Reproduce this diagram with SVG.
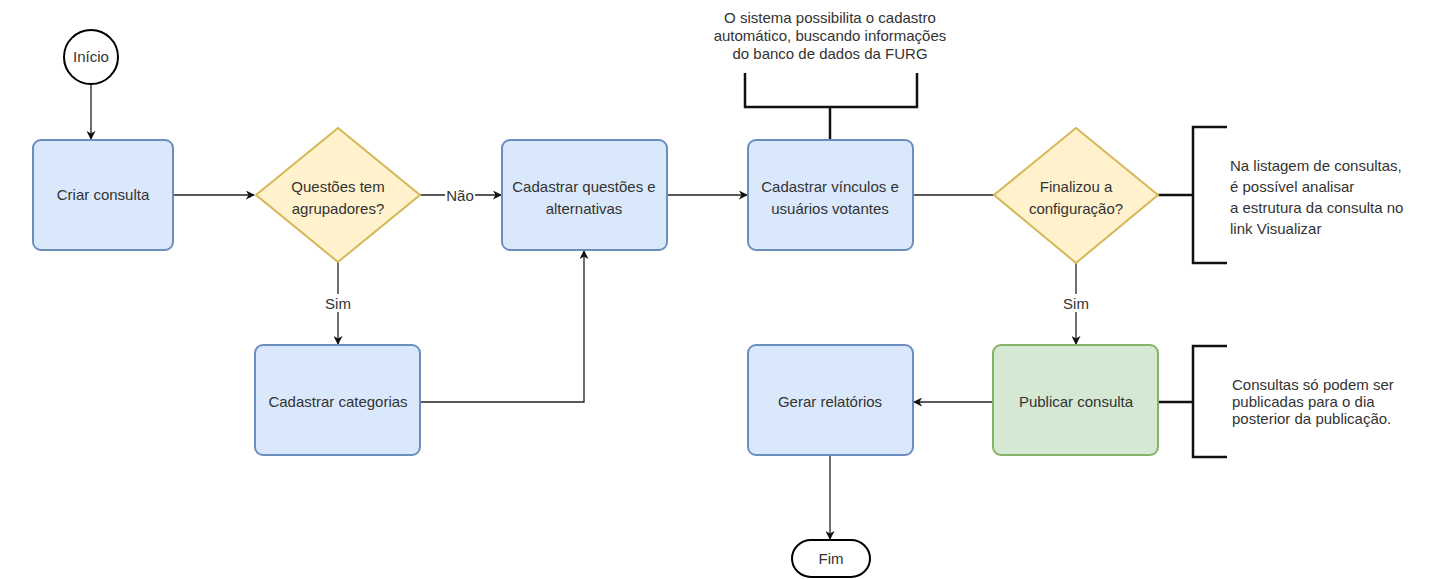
<svg xmlns="http://www.w3.org/2000/svg" width="1437" height="579" viewBox="0 0 1437 579">
<style>
text{font-family:"Liberation Sans",Arial,sans-serif;font-size:15px;fill:#333;}
.c{text-anchor:middle;}
.blue{fill:#dae8fc;stroke:#6c8ebf;stroke-width:2;}
.green{fill:#d5e8d4;stroke:#82b366;stroke-width:2;}
.yel{fill:#fff2cc;stroke:#d6b656;stroke-width:2;}
.term{fill:#fff;stroke:#000;stroke-width:2;}
.edge{fill:none;stroke:#222;stroke-width:1.3;}
.brk{fill:none;stroke:#111;stroke-width:2.5;}
.lbl{fill:#fff;stroke:none;}
</style>
<defs>
<marker id="arr" viewBox="0 0 10 10" refX="9" refY="5" markerWidth="9" markerHeight="9" markerUnits="userSpaceOnUse" orient="auto">
<path d="M0,0 L10,5 L0,10 L3,5 z" fill="#111"/>
</marker>
</defs>
<g id="connectors">
<line class="edge" x1="91" y1="84" x2="91" y2="139" marker-end="url(#arr)"/>
<line class="edge" x1="173" y1="195" x2="254" y2="195" marker-end="url(#arr)"/>
<line class="edge" x1="420" y1="195" x2="501" y2="195" marker-end="url(#arr)"/>
<rect class="lbl" x="445" y="186" width="30" height="18"/>
<text class="c" x="460" y="201">Não</text>
<line class="edge" x1="667" y1="195" x2="747" y2="195" marker-end="url(#arr)"/>
<line class="edge" x1="913" y1="195" x2="994" y2="195"/>
<line class="edge" x1="338" y1="262" x2="338" y2="344" marker-end="url(#arr)"/>
<rect class="lbl" x="324" y="294" width="28" height="18"/>
<text class="c" x="338" y="309">Sim</text>
<polyline class="edge" points="420,402 584,402 584,251" marker-end="url(#arr)"/>
<line class="edge" x1="1076" y1="263" x2="1076" y2="344" marker-end="url(#arr)"/>
<rect class="lbl" x="1062" y="294" width="28" height="18"/>
<text class="c" x="1076" y="309">Sim</text>
<line class="edge" x1="993" y1="402" x2="914" y2="402" marker-end="url(#arr)"/>
<line class="edge" x1="830" y1="455" x2="830" y2="539" marker-end="url(#arr)"/>
<line class="brk" x1="1158" y1="195" x2="1193" y2="195"/>
<line class="brk" x1="1158" y1="402" x2="1193" y2="402"/>
<line class="brk" x1="830" y1="140" x2="830" y2="107"/>
</g>
<g id="inicio">
<circle class="term" cx="91" cy="57" r="27"/>
<text class="c" x="91" y="62">Início</text>
</g>
<g id="criar">
<rect class="blue" x="33" y="140" width="140" height="110" rx="8"/>
<text class="c" x="103" y="200">Criar consulta</text>
</g>
<g id="questoes">
<polygon class="yel" points="338,128 420,195 338,262 256,195"/>
<text class="c" x="338" y="192">Questões tem</text>
<text class="c" x="338" y="214">agrupadores?</text>
</g>
<g id="cadquestoes">
<rect class="blue" x="502" y="140" width="165" height="110" rx="8"/>
<text class="c" x="584" y="192">Cadastrar questões e</text>
<text class="c" x="584" y="214">alternativas</text>
</g>
<g id="cadcategorias">
<rect class="blue" x="255" y="345" width="165" height="110" rx="8"/>
<text class="c" x="338" y="407">Cadastrar categorias</text>
</g>
<g id="cadvinculos">
<rect class="blue" x="748" y="140" width="165" height="110" rx="8"/>
<text class="c" x="830" y="192">Cadastrar vínculos e</text>
<text class="c" x="830" y="214">usuários votantes</text>
</g>
<g id="nota1">
<polyline class="brk" points="745,73 745,107 917,107 917,73"/>
<text class="c" x="830" y="23">O sistema possibilita o cadastro</text>
<text class="c" x="830" y="41">automático, buscando informações</text>
<text class="c" x="830" y="59">do banco de dados da FURG</text>
</g>
<g id="finalizou">
<polygon class="yel" points="1076,128 1158,195 1076,263 994,195"/>
<text class="c" x="1076" y="192">Finalizou a</text>
<text class="c" x="1076" y="214">configuração?</text>
</g>
<g id="nota2">
<polyline class="brk" points="1227,127 1193,127 1193,263 1227,263"/>
<text x="1230" y="171">Na listagem de consultas,</text>
<text x="1230" y="192">é possível analisar</text>
<text x="1230" y="213">a estrutura da consulta no</text>
<text x="1230" y="234">link Visualizar</text>
</g>
<g id="publicar">
<rect class="green" x="993" y="345" width="165" height="110" rx="8"/>
<text class="c" x="1076" y="407">Publicar consulta</text>
</g>
<g id="nota3">
<polyline class="brk" points="1227,346 1193,346 1193,457 1227,457"/>
<text x="1232" y="390">Consultas só podem ser</text>
<text x="1232" y="407">publicadas para o dia</text>
<text x="1232" y="424">posterior da publicação.</text>
</g>
<g id="gerar">
<rect class="blue" x="748" y="345" width="165" height="110" rx="8"/>
<text class="c" x="830" y="407">Gerar relatórios</text>
</g>
<g id="fim">
<rect class="term" x="792" y="540" width="78" height="37" rx="19"/>
<text class="c" x="831" y="564">Fim</text>
</g>
</svg>
